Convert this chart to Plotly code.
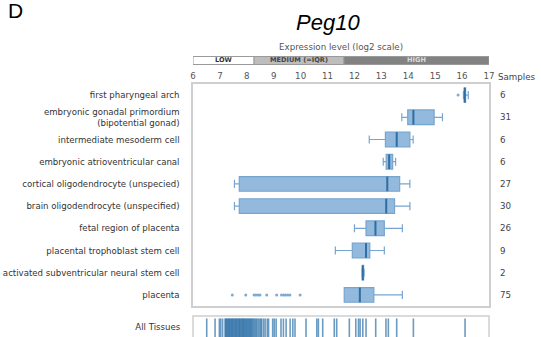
import plotly.graph_objects as go

# ---------------- data ----------------
tissues = [
    "first pharyngeal arch",
    "embryonic gonadal primordium<br>(bipotential gonad)",
    "intermediate mesoderm cell",
    "embryonic atrioventricular canal",
    "cortical oligodendrocyte (unspecied)",
    "brain oligodendrocyte (unspecified)",
    "fetal region of placenta",
    "placental trophoblast stem cell",
    "activated subventricular neural stem cell",
    "placenta",
]
lower_fence = [16.05, 13.76, 12.55, 13.07, 7.54, 7.54, 12.00, 11.29, 12.28, 11.62]
q1_vals     = [16.08, 13.98, 13.15, 13.18, 7.72, 7.72, 12.43, 11.92, 12.29, 11.62]
medians     = [16.10, 14.19, 13.57, 13.29, 13.22, 13.18, 12.78, 12.43, 12.31, 12.20]
q3_vals     = [16.13, 14.96, 14.06, 13.42, 13.68, 13.49, 13.11, 12.57, 12.34, 12.72]
upper_fence = [16.23, 15.27, 14.18, 13.53, 14.06, 14.06, 13.78, 13.11, 12.36, 13.78]
samples     = [6, 31, 6, 6, 27, 30, 26, 9, 2, 75]

outlier_tissue = ["first pharyngeal arch"] + ["placenta"] * 14
outlier_vals = [15.85, 7.46, 7.96, 8.27, 8.34, 8.42, 8.49, 8.74, 9.11, 9.29,
                9.37, 9.44, 9.52, 9.60, 9.98]

all_tissues_vals = [
    6.51, 6.82, 6.98, 7.03, 7.10,
    7.19, 7.22, 7.24, 7.27, 7.30, 7.33, 7.35, 7.38, 7.41, 7.44, 7.46, 7.49,
    7.52, 7.55, 7.58, 7.60, 7.63, 7.66, 7.69, 7.72, 7.74, 7.77, 7.80, 7.83,
    7.86, 7.88, 7.91, 7.94, 7.97, 8.00, 8.03, 8.06, 8.09, 8.12, 8.15, 8.18,
    8.21, 8.25, 8.29, 8.33, 8.37, 8.42, 8.47, 8.52, 8.55,
    8.62, 8.68, 8.76, 8.81, 8.96, 9.02, 9.09, 9.27, 9.36, 9.46, 9.61, 9.71,
    9.79, 10.20, 10.60, 10.66, 10.82, 11.25, 11.34, 11.81, 12.05, 12.15,
    12.21, 12.31, 12.43, 12.79, 13.17, 13.26, 13.57, 14.19, 16.11,
]

level_bounds = [6, 8.27, 11.61, 17]
level_names = ["LOW", "MEDIUM (=IQR)", "HIGH"]
level_fill = ["#ffffff", "#bdbdbd", "#828282"]
level_text = ["#333333", "#444444", "#dddddd"]

x_ticks = list(range(6, 18))
gene = "Peg10"

# ---------------- figure ----------------
W, H = 541, 337
ML, MR, MT, MB = 193, 52, 84, 0
PH = H - MT - MB
PW = W - ML - MR


def py(px):  # pixel y -> paper y
    return (H - MB - px) / PH


def pxp(px):  # pixel x -> paper x
    return (px - ML) / PW


fig = go.Figure()

fig.add_trace(go.Box(
    y=tissues, q1=q1_vals, median=medians, q3=q3_vals,
    lowerfence=lower_fence, upperfence=upper_fence,
    orientation="h", boxpoints=False, width=0.66, whiskerwidth=0.55,
    fillcolor="#93b9dc", line=dict(color="#76a5cf", width=1.2),
    xaxis="x", yaxis="y", hoverinfo="skip", showlegend=False,
))
fig.add_trace(go.Scatter(
    x=medians, y=tissues, mode="markers",
    marker=dict(symbol="line-ns", size=10.5,
                line=dict(color="#2f6ea6", width=2)),
    xaxis="x", yaxis="y", hoverinfo="skip", showlegend=False,
))
fig.add_trace(go.Scatter(
    x=outlier_vals, y=outlier_tissue, mode="markers",
    marker=dict(symbol="circle", size=3, color="#7faad2"),
    xaxis="x", yaxis="y", hoverinfo="skip", showlegend=False,
))
fig.add_trace(go.Scatter(
    x=all_tissues_vals, y=[-0.3] * len(all_tissues_vals), mode="markers",
    marker=dict(symbol="line-ns", size=16,
                line=dict(color="rgba(46,112,168,0.7)", width=1.6)),
    xaxis="x2", yaxis="y2", hoverinfo="skip", showlegend=False,
))

axis_font = dict(family="DejaVu Sans", size=8.7, color="#555555")
label_font = dict(family="DejaVu Sans", size=8.6, color="#333333")
border = "#cfcfcf"

main_bottom = py(306)
rug_top = py(316)

fig.update_layout(
    width=W, height=H,
    margin=dict(l=ML, r=MR, t=MT, b=MB, pad=0),
    paper_bgcolor="white", plot_bgcolor="white",
    showlegend=False,
    xaxis=dict(domain=[0, 1], range=[6, 17], side="top", anchor="y",
               tickvals=x_ticks, ticks="", tickfont=axis_font,
               showgrid=False, zeroline=False, showline=True, mirror=True,
               linecolor=border, linewidth=1.5),
    yaxis=dict(domain=[main_bottom, 1], type="category",
               categoryorder="array", categoryarray=tissues,
               range=[9.5, -0.5], tickfont=label_font, automargin=False,
               ticks="outside", ticklen=10, tickcolor="rgba(0,0,0,0)",
               showgrid=False, zeroline=False, showline=True, mirror=True,
               linecolor=border, linewidth=1.5),
    xaxis2=dict(domain=[0, 1], range=[6, 17], anchor="y2",
                showticklabels=False, ticks="", showgrid=False,
                zeroline=False, showline=False),
    yaxis2=dict(domain=[0, rug_top], range=[-1, 1], anchor="x2",
                tickvals=[0], ticktext=["All Tissues"], tickfont=label_font,
                automargin=False,
                ticks="outside", ticklen=10, tickcolor="rgba(0,0,0,0)",
                showgrid=False, zeroline=False, showline=False),
)

# rug panel border (bottom edge falls outside the picture)
fig.add_shape(type="rect", xref="paper", yref="paper",
              x0=0, x1=1, y0=-0.2, y1=rug_top,
              line=dict(color=border, width=1.5), fillcolor="rgba(0,0,0,0)")

# expression level bar
for i, name in enumerate(level_names):
    fig.add_shape(type="rect", xref="x", yref="paper",
                  x0=level_bounds[i], x1=level_bounds[i + 1],
                  y0=py(64.5), y1=py(56.5),
                  line=dict(color="#9a9a9a", width=1),
                  fillcolor=level_fill[i], layer="above")
    fig.add_annotation(x=(level_bounds[i] + level_bounds[i + 1]) / 2,
                       y=(py(64.5) + py(56.5)) / 2, xref="x", yref="paper",
                       text="<b>" + name + "</b>", showarrow=False,
                       font=dict(family="DejaVu Sans", size=6.6,
                                 color=level_text[i]),
                       xanchor="center", yanchor="middle")

fig.add_annotation(x=0.5, y=py(47), xref="paper", yref="paper",
                   text="Expression level (log2 scale)", showarrow=False,
                   font=dict(family="DejaVu Sans", size=8.7, color="#555555"),
                   xanchor="center", yanchor="middle")

fig.add_annotation(x=pxp(328), y=py(22), xref="paper", yref="paper",
                   text="<i>" + gene + "</i>", showarrow=False,
                   font=dict(family="Liberation Sans", size=22, color="black"),
                   xanchor="center", yanchor="middle")

fig.add_annotation(x=pxp(6), y=py(11), xref="paper", yref="paper",
                   text="D", showarrow=False,
                   font=dict(family="Liberation Sans", size=21, color="black"),
                   xanchor="left", yanchor="middle")

fig.add_annotation(x=pxp(496), y=py(77), xref="paper", yref="paper",
                   text="Samples", showarrow=False,
                   font=dict(family="DejaVu Sans", size=8.7, color="#444444"),
                   xanchor="left", yanchor="middle")

for t, n in zip(tissues, samples):
    fig.add_annotation(x=pxp(498), y=t, xref="paper", yref="y",
                       text=str(n), showarrow=False,
                       font=dict(family="DejaVu Sans", size=8.7, color="#444444"),
                       xanchor="left", yanchor="middle")

fig.write_html(
    "out.html",
    config={"displayModeBar": False},
    post_script="document.body.style.margin='0px';"
                "document.body.style.overflow='hidden';",
)
